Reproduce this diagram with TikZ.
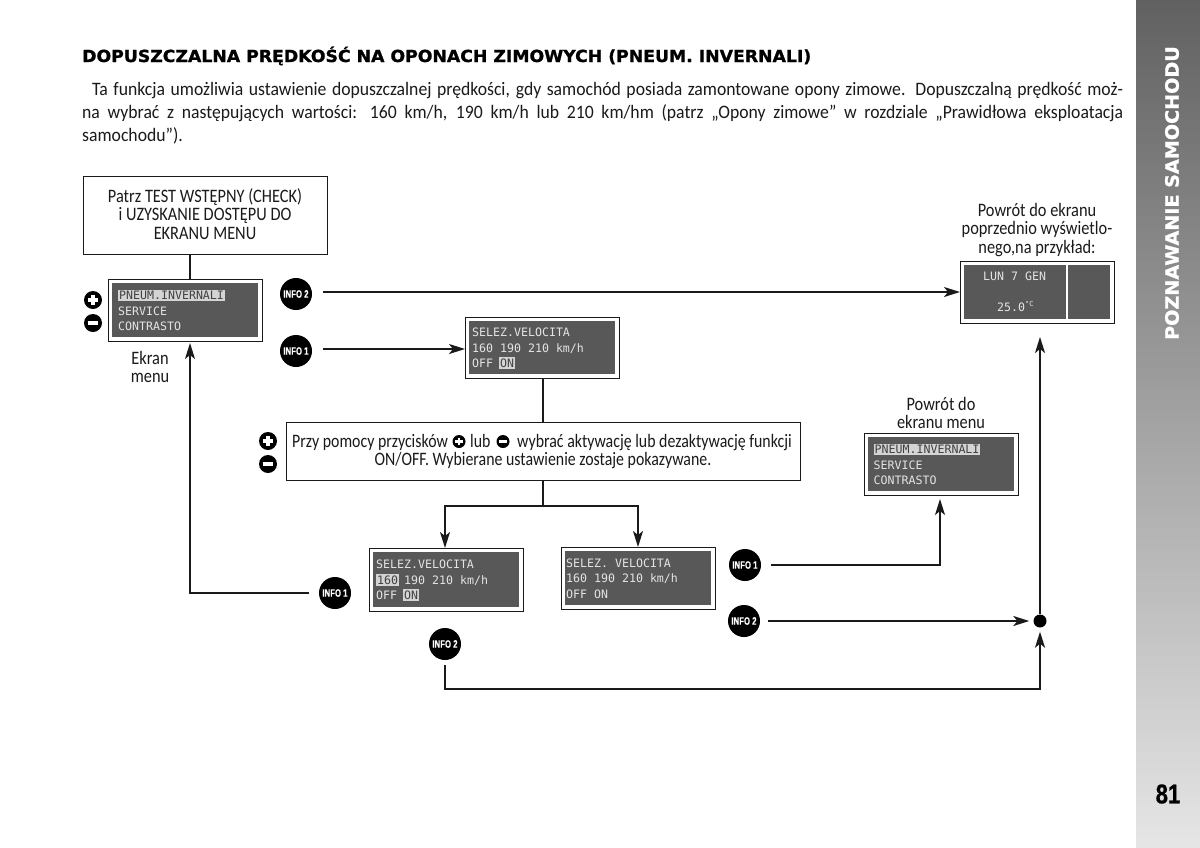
\documentclass[tikz,border=0pt]{standalone}
\usepackage{fontspec}
\setmainfont{Carlito}
\newfontfamily\bodyf[FakeStretch=0.86]{Carlito}
\newfontfamily\paraf[FakeStretch=0.93]{Carlito}
\newfontfamily\instrf[FakeStretch=0.835]{Carlito}
\newfontfamily\titlef[FakeBold=1.2,FakeStretch=1.04]{DejaVu Sans Bold}
\newfontfamily\lcdf{DejaVu Sans Mono}
\newfontfamily\infof[FakeStretch=0.72,FakeBold=0.3]{Liberation Sans Bold}
\newfontfamily\pagef[FakeStretch=0.82,FakeBold=0.8]{Liberation Sans Bold}
\usetikzlibrary{arrows.meta,calc,positioning}
\definecolor{ink}{HTML}{1A1A1A}
\definecolor{lcdgrey}{HTML}{585858}
\definecolor{lcdtxt}{HTML}{E4E4E4}
\definecolor{lcdhi}{HTML}{D4D4D4}
\tikzset{
  boxed/.style={draw=ink,line width=1.2pt,fill=white,inner sep=0,anchor=north west},
  lcdouter/.style={draw=ink,line width=1pt,fill=white,inner sep=0,anchor=north west},
  lcdinner/.style={fill=lcdgrey,inner sep=0,anchor=north west},
  lcdline/.style={inner sep=0,anchor=base west,text=lcdtxt,font=\fontsize{11.6}{12}\lcdf},
  lcdsel/.style={lcdline,fill=lcdhi,text=black!75,inner xsep=1pt,inner ysep=1.5pt},
  infoc/.style={circle,fill=black,inner sep=0,minimum size=32pt,text=white,font=\fontsize{10.8}{12}\infof},
  btn/.style={circle,fill=black,inner sep=0,minimum size=#1},
  conn/.style={draw=ink,line width=1.8pt},
  arr/.style={conn,-{Stealth[length=16pt,width=10pt,inset=4pt]}},
  lab/.style={inner sep=0,align=center,font=\fontsize{19}{18.3}\bodyf,text=ink},
  labw/.style={inner sep=0,anchor=base west,font=\fontsize{19}{18.3}\instrf,text=ink},
}
% name, x1, y1, x2, y2
\newcommand{\lcdbox}[5]{%
  \node[lcdouter,minimum width=#4pt-#2pt,minimum height=#5pt-#3pt] (#1) at (#2,#3) {};
  \node[lcdinner,minimum width=#4pt-#2pt-8pt,minimum height=#5pt-#3pt-8pt] (#1in) at (#2+4,#3+4) {};
}
\newcommand{\plusbtn}[4]{% name,x,y,size
  \node[btn=#4pt] (#1) at (#2,#3) {};
  \draw[white,line width=0.19*#4pt] ($(#1)-(0.3*#4,0)$) -- ($(#1)+(0.3*#4,0)$);
  \draw[white,line width=0.19*#4pt] ($(#1)-(0,0.3*#4)$) -- ($(#1)+(0,0.3*#4)$);
}
\newcommand{\minusbtn}[4]{%
  \node[btn=#4pt] (#1) at (#2,#3) {};
  \draw[white,line width=0.19*#4pt] ($(#1)-(0.3*#4,0)$) -- ($(#1)+(0.3*#4,0)$);
}
\begin{document}
\begin{tikzpicture}[x=1pt,y=-1pt]
\useasboundingbox (0,0) rectangle (1200,847);
\fill[white] (0,0) rectangle (1200,847);
% sidebar
\shade[top color=black!62,middle color=black!50,bottom color=black!10] (1136,0) rectangle (1200,847);
\node[rotate=90,inner sep=0,text=white,font=\fontsize{18.4}{19}\titlef] (side) at (1172,193) {POZNAWANIE SAMOCHODU};
\node[inner sep=0,text=black,font=\fontsize{27}{28}\pagef] (page) at (1168,794) {81};
% title and text
\node[inner sep=0,anchor=base west,text=black,font=\fontsize{16.6}{18}\titlef] (title) at (82,62) {DOPUSZCZALNA PRĘDKOŚĆ NA OPONACH ZIMOWYCH (PNEUM. INVERNALI)};
\node[inner sep=0,anchor=north west,text width=1041pt,align=justify,text=ink,font=\fontsize{19}{23}\paraf] (para) at (82,82) {\hspace*{10pt}Ta funkcja umożliwia ustawienie dopuszczalnej prędkości, gdy samochód posiada zamontowane opony zimowe. Dopuszczalną prędkość moż-\linebreak na wybrać z następujących wartości: 160 km/h, 190 km/h lub 210 km/hm (patrz „Opony zimowe” w rozdziale „Prawidłowa eksploatacja\linebreak samochodu”).};
% top box
\node[boxed,minimum width=244pt,minimum height=78pt] (check) at (83,176) {};
\node[lab] (checkt) at (205,214) {Patrz TEST WSTĘPNY (CHECK)\\i UZYSKANIE DOSTĘPU DO\\EKRANU MENU};
% LCD menu
\lcdbox{menu}{108}{279}{262}{341}
\node[lcdsel] (m1) at (118,299.5) {PNEUM.INVERNALI};
\node[lcdline] (m2) at (118,315) {SERVICE};
\node[lcdline] (m3) at (118,330.5) {CONTRASTO};
\plusbtn{mplus}{93}{300}{18}
\minusbtn{mminus}{93}{323}{18}
\node[lab] (ekran) at (150,367) {Ekran\\menu};
% INFO
\node[infoc] (i2a) at (296,294) {INFO 2};
\node[infoc] (i1a) at (296,351) {INFO 1};
% selez top
\lcdbox{sel}{465}{317}{619}{378}
\node[lcdline] (s1) at (472,336) {SELEZ.VELOCITA};
\node[lcdline] (s2) at (472,352) {160 190 210 km/h};
\node[lcdline] (s3a) at (472,367.5) {OFF};
\node[lcdsel] (s3b) at (499,367.5) {ON};
% instruction box
\node[boxed,minimum width=514pt,minimum height=58pt] (instr) at (286,422) {};
\node[labw] (it1) at (292,447) {Przy pomocy przycisków};
\node[labw] (it2) at (470,447) {lub};
\node[labw] (it3) at (517,447) {wybrać aktywację lub dezaktywację funkcji};
\node[lab,font=\fontsize{19}{18.3}\instrf] (it4) at (543,461) {ON/OFF. Wybierane ustawienie zostaje pokazywane.};
\plusbtn{iplus}{268}{441}{18}
\minusbtn{iminus}{268}{464}{18}
\plusbtn{tplus}{459}{441.5}{13}
\minusbtn{tminus}{503}{441.5}{13}
% bottom lcds
\lcdbox{on}{369}{548}{523}{611}
\node[lcdline] (o1) at (376,568.5) {SELEZ.VELOCITA};
\node[lcdsel] (o2) at (376,584.5) {160};
\node[lcdline] (o2b) at (404,584.5) {190 210 km/h};
\node[lcdline] (o3a) at (376,599) {OFF};
\node[lcdsel] (o3b) at (403,599) {ON};
\lcdbox{off}{561}{547}{715}{609}
\node[lcdline] (f1) at (566,567) {SELEZ. VELOCITA};
\node[lcdline] (f2) at (566,582.5) {160 190 210 km/h};
\node[lcdline] (f3) at (566,598) {OFF ON};
% right
\node[lab] (pm) at (941,413) {Powrót do\\ekranu menu};
\lcdbox{back}{864}{433}{1018}{495}
\node[lcdsel] (b1) at (873.5,453.5) {PNEUM.INVERNALI};
\node[lcdline] (b2) at (873.5,469) {SERVICE};
\node[lcdline] (b3) at (873.5,484.5) {CONTRASTO};
\node[lab] (pe) at (1037,230) {Powrót do ekranu\\poprzednio wyświetlo-\\nego,na przykład:};
\lcdbox{prev}{960}{261}{1114}{323}
\draw[white,line width=1.3pt] (1067,265) -- (1067,319);
\node[lcdline] (p1) at (983,280) {LUN 7 GEN};
\node[lcdline] (p2) at (997,311) {25.0};
\node[lcdline,font=\fontsize{7}{8}\lcdf] (p3) at (1025,306) {°C};
% infos lower
\node[infoc] (i1b) at (335,593) {INFO 1};
\node[infoc] (i2b) at (445,644) {INFO 2};
\node[infoc] (i1c) at (745,565) {INFO 1};
\node[infoc] (i2c) at (744,621) {INFO 2};
\node[circle,fill=black,inner sep=0,minimum size=13pt] (dot) at (1040,621) {};
% connectors
\coordinate (chk) at (190,254);
\draw[conn] (chk) -- (chk |- menu.north);
\coordinate (mb) at (190,343);
\draw[arr,shorten <=10pt] (i1b.west) -- (mb |- i1b) -- (mb);
\coordinate (i2aout) at ($(i2a.east)+(0,-2)$);
\coordinate (i1aout) at ($(i1a.east)+(0,-2)$);
\draw[arr,shorten <=11pt] (i2aout) -- (prev.west |- i2aout);
\draw[arr,shorten <=11pt] (i1aout) -- (sel.west |- i1aout);
\coordinate (tee) at (543,506);
\draw[conn] (tee |- sel.south) -- (tee |- instr.north);
\draw[conn] (tee |- instr.south) -- (tee);
\coordinate (la) at (445,548);
\coordinate (ra) at (638,547);
\draw[arr] (tee) -- (la |- tee) -- (la);
\draw[arr] (tee) -- (ra |- tee) -- (ra);
\coordinate (bk) at (940,499);
\draw[arr,shorten <=10pt] (i1c.east) -- (bk |- i1c) -- (bk);
\draw[arr,shorten <=8pt,shorten >=4pt] (i2c.east) -- (dot.west);
\coordinate (pb) at (1040,337);
\draw[arr] (dot.north) -- (pb);
\coordinate (bot) at (445,689);
\draw[arr,shorten <=5pt,shorten >=4pt] (i2b.south) -- (bot) -- (bot -| dot) -- (dot.south);
\end{tikzpicture}
\end{document}
